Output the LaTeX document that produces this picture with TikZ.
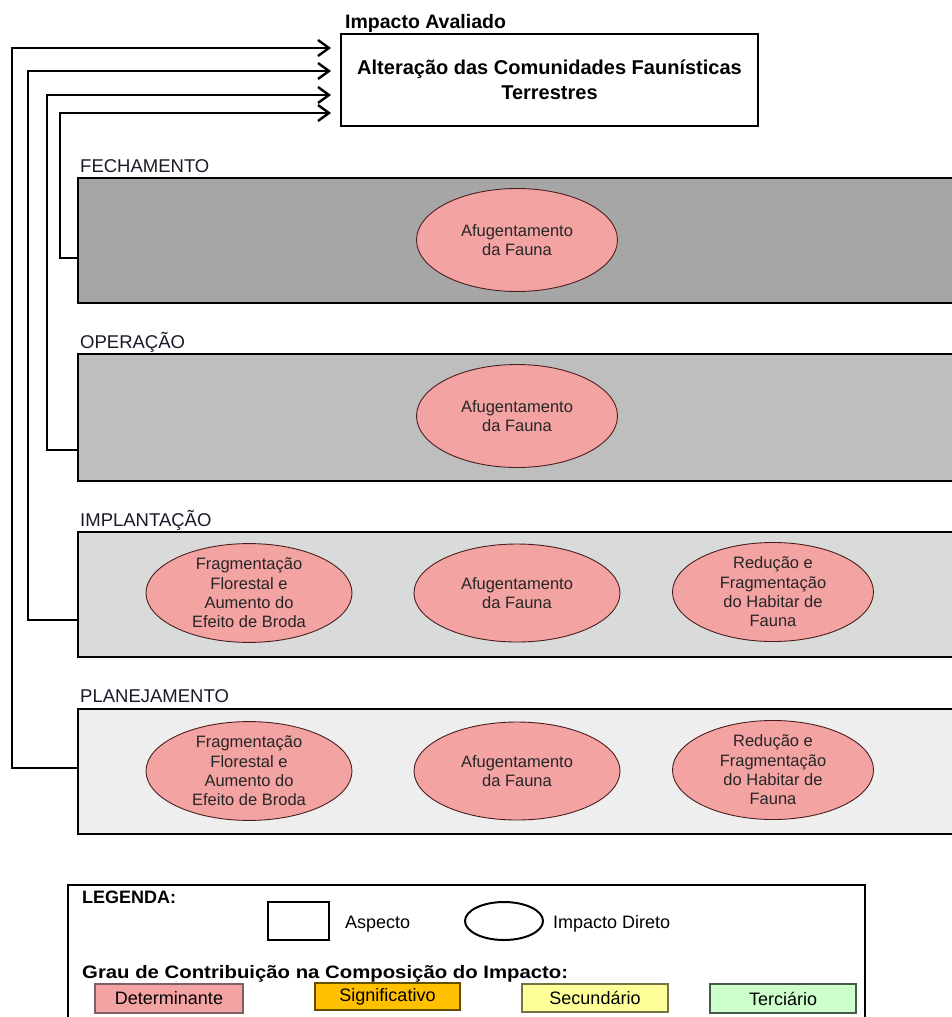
\documentclass[tikz,border=0pt]{standalone}
\usepackage{fontspec}
\setmainfont{Liberation Sans}
\usetikzlibrary{arrows.meta,shapes.geometric}
\definecolor{impactfill}{HTML}{F4A3A3}
\definecolor{impactline}{HTML}{4A1E1E}
\definecolor{fechfill}{HTML}{A6A6A6}
\definecolor{operfill}{HTML}{BEBEBE}
\definecolor{implfill}{HTML}{D9DADA}
\definecolor{planfill}{HTML}{EEEEEE}
\definecolor{signfill}{HTML}{FFC000}
\definecolor{secfill}{HTML}{FFFF99}
\definecolor{tercfill}{HTML}{CCFFCC}
\definecolor{labeltext}{HTML}{1A1A2A}
\begin{document}
\begin{tikzpicture}[x=1pt,y=-1pt,
  titlebox/.style={draw,line width=2pt,fill=white,align=center,inner sep=0pt,
    font=\fontsize{20}{25}\selectfont\bfseries},
  band/.style={draw,line width=2pt,inner sep=0pt,anchor=north west,
    minimum width=883pt,minimum height=125pt},
  phase/.style={anchor=base west,inner sep=0pt,text=labeltext,
    font=\fontsize{18.5}{20}\selectfont},
  impact/.style={ellipse,draw=impactline,line width=0.9pt,fill=impactfill,
    inner sep=0pt,align=center,text=black!85,
    font=\fontsize{16.5}{19.3}\selectfont},
  small/.style={impact,minimum width=201pt,minimum height=103pt},
  wide/.style={impact,minimum width=206pt,minimum height=98pt},
  conn/.style={line width=2.6pt,line join=miter,
    -{Straight Barb[length=11pt,width=16pt,line width=2.4pt]},shorten >=9pt},
  keybox/.style={draw,line width=1.2pt,inner sep=0pt,
    font=\fontsize{18}{20}\selectfont},
  legtext/.style={anchor=base west,inner sep=0pt,font=\fontsize{18}{20}\selectfont},
  legbold/.style={legtext,font=\fontsize{18}{20}\selectfont\bfseries}]
\clip (0,0) rectangle (952,1017);
\fill[white] (0,0) rectangle (952,1017);

% assessed impact
\node[anchor=base west,inner sep=0pt,font=\fontsize{19.5}{22}\selectfont\bfseries]
  (cabec) at (345,28) {Impacto Avaliado};
\node[titlebox,anchor=north west,minimum width=417pt,minimum height=92pt]
  (alvo) at (340,33) {Alteração das Comunidades Faunísticas\\Terrestres};

% project phases
\node[phase] (lfech) at (80,172) {FECHAMENTO};
\node[band,fill=fechfill] (fech) at (77,177) {};
\node[phase] (loper) at (80,348) {OPERAÇÃO};
\node[band,fill=operfill,minimum height=127pt] (oper) at (77,353) {};
\node[phase] (limpl) at (80,526) {IMPLANTAÇÃO};
\node[band,fill=implfill] (impl) at (77,531) {};
\node[phase] (lplan) at (80,702) {PLANEJAMENTO};
\node[band,fill=planfill] (plan) at (77,708) {};

% direct impacts
\node[small] (f1) at (517,240) {Afugentamento\\da Fauna};
\node[small] (o1) at (517,416) {Afugentamento\\da Fauna};
\node[wide] (i1) at (249,593) {Fragmentação\\Florestal e\\Aumento do\\Efeito de Broda};
\node[wide] (i2) at (517,593) {Afugentamento\\da Fauna};
\node[wide,minimum width=201pt] (i3) at (773,592) {Redução e\\Fragmentação\\do Habitar de\\Fauna};
\node[wide] (p1) at (249,771) {Fragmentação\\Florestal e\\Aumento do\\Efeito de Broda};
\node[wide] (p2) at (517,771) {Afugentamento\\da Fauna};
\node[wide,minimum width=201pt] (p3) at (773,770) {Redução e\\Fragmentação\\do Habitar de\\Fauna};

% phase contributions to the assessed impact
\draw[conn] (plan.west |- 0,768) -| (12,48) -- (alvo.west |- 0,48);
\draw[conn] (impl.west |- 0,620) -| (28,71) -- (alvo.west |- 0,71);
\draw[conn] (oper.west |- 0,450) -| (47,95) -- (alvo.west |- 0,95);
\draw[conn] (fech.west |- 0,258) -| (60,113) -- (alvo.west |- 0,113);

% legend
\node[draw,line width=2pt,inner sep=0pt,anchor=north west,
  minimum width=797pt,minimum height=146pt] (leg) at (67,884) {};
\node[legbold] (legt) at (82,903) {LEGENDA:};
\node[draw,line width=2pt,minimum width=61pt,minimum height=38pt,inner sep=0pt]
  (legasp) at (298.5,921) {};
\node[legtext] (legasptxt) at (345,928) {Aspecto};
\node[ellipse,draw,line width=2pt,minimum width=78pt,minimum height=38pt,inner sep=0pt]
  (legimp) at (504,921) {};
\node[legtext] (legimptxt) at (553,928) {Impacto Direto};
\node[legbold] (leggrau) at (82,978)
  {\scalebox{1.13}[1]{Grau de Contribuição na Composição do Impacto:}};
\node[keybox,fill=impactfill,draw=impactline!70,minimum width=148pt,minimum height=29pt]
  (kdet) at (169,998.5) {Determinante};
\node[keybox,fill=signfill,draw=black!60!signfill,minimum width=145pt,minimum height=27pt]
  (ksig) at (387.5,996.5) {Significativo};
\node[keybox,fill=secfill,draw=black!55!secfill,minimum width=146pt,minimum height=28pt]
  (ksec) at (595,998) {Secundário};
\node[keybox,fill=tercfill,draw=black!65!tercfill,minimum width=146pt,minimum height=29pt]
  (kter) at (783,998.5) {Terciário};
\end{tikzpicture}
\end{document}
